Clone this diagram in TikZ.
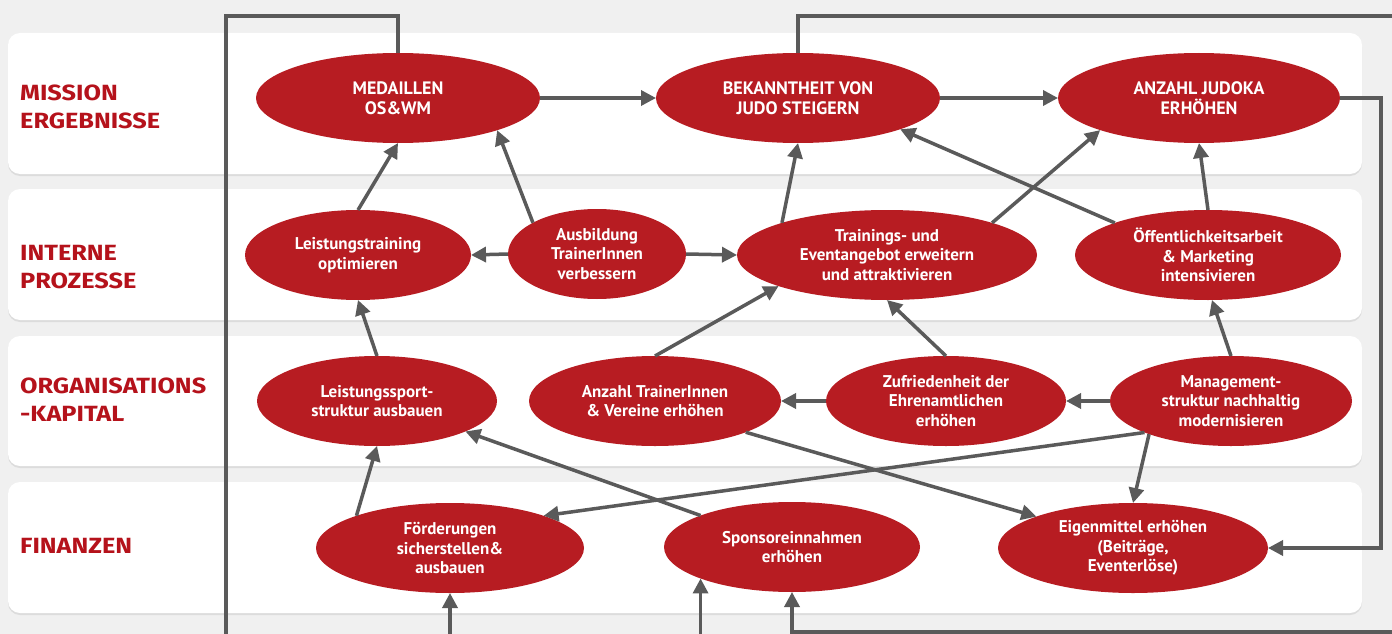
\documentclass[tikz,border=0pt]{standalone}
\usepackage{fontspec}
\setmainfont{PT Sans}
\newfontfamily\labfont[FakeStretch=1.15]{Fira Sans}
\usetikzlibrary{shapes.geometric,arrows.meta}
\definecolor{jred}{HTML}{B71C22}
\definecolor{lred}{HTML}{B5121B}
\definecolor{agray}{HTML}{5A5A5A}
\definecolor{bgc}{HTML}{F0F0F0}
\definecolor{shc}{HTML}{DCDCDC}
\tikzset{
  goal/.style={ellipse, fill=jred, text=white, align=center, inner sep=0pt, outer sep=0pt,
    font=\bfseries\fontsize{17}{19.5}\selectfont},
  capgoal/.style={goal, font=\bfseries\fontsize{18}{19.5}\selectfont},
  conn/.style={draw=agray, line width=3.5pt, -{Triangle[length=15pt,width=15pt]}},
  plainline/.style={draw=agray, line width=3.5pt},
  band/.style={fill=white, rounded corners=12pt},
  bandshadow/.style={fill=shc, rounded corners=12pt},
  lab/.style={text=lred, align=left, anchor=west, inner sep=0pt,
    font=\labfont\bfseries\fontsize{22}{28}\selectfont}
}
\begin{document}
\begin{tikzpicture}[x=1pt,y=-1pt]
\useasboundingbox (0,0) rectangle (1392,634);
\clip (0,0) rectangle (1392,634);
\fill[bgc] (0,0) rectangle (1392,634);
% bands
\foreach \ya/\yb in {33/174, 189/320, 336/466, 482/613}{
  \fill[bandshadow] (8,\ya+2) rectangle (1362,\yb+2);
  \fill[band] (8,\ya) rectangle (1362,\yb);
}
% perspective labels
\node[lab] (l1) at (20,107) {MISSION\\ERGEBNISSE};
\node[lab] (l2) at (20,267) {INTERNE\\PROZESSE};
\node[lab] (l3) at (20,400) {ORGANISATIONS\\-KAPITAL};
\node[lab] (l4) at (20,546) {FINANZEN};
% goals
\node[capgoal, minimum width=284pt, minimum height=90pt] (med) at (398,98) {MEDAILLEN\\OS\&WM};
\node[capgoal, minimum width=284pt, minimum height=90pt] (bek) at (798,98) {BEKANNTHEIT VON\\JUDO STEIGERN};
\node[capgoal, minimum width=282pt, minimum height=90pt] (anz) at (1199,98) {ANZAHL JUDOKA\\ERHÖHEN};
\node[goal, minimum width=226pt, minimum height=90pt] (lt) at (358,255) {Leistungstraining\\optimieren};
\node[goal, minimum width=178pt, minimum height=90pt] (aus) at (597,254) {Ausbildung\\TrainerInnen\\verbessern};
\node[goal, minimum width=300pt, minimum height=90pt] (tr) at (887,255) {Trainings- und\\Eventangebot erweitern\\und attraktivieren};
\node[goal, minimum width=266pt, minimum height=90pt] (oef) at (1208,255) {Öffentlichkeitsarbeit\\\& Marketing\\intensivieren};
\node[goal, minimum width=240pt, minimum height=90pt] (lsp) at (377,401) {Leistungssport-\\struktur ausbauen};
\node[goal, minimum width=252pt, minimum height=90pt] (atr) at (655,401) {Anzahl TrainerInnen\\\& Vereine erhöhen};
\node[goal, minimum width=240pt, minimum height=90pt] (zuf) at (946,401) {Zufriedenheit der\\Ehrenamtlichen\\erhöhen};
\node[goal, minimum width=242pt, minimum height=90pt] (mgm) at (1231,401) {Management-\\struktur nachhaltig\\modernisieren};
\node[goal, minimum width=268pt, minimum height=90pt] (foe) at (450,548) {Förderungen\\sicherstellen\&\\ausbauen};
\node[goal, minimum width=256pt, minimum height=90pt] (spo) at (792,547) {Sponsoreinnahmen\\erhöhen};
\node[goal, minimum width=270pt, minimum height=90pt] (eig) at (1133,548) {Eigenmittel erhöhen\\(Beiträge,\\Eventerlöse)};
% free ends of the loops
\coordinate (cTL) at (226,16);
\coordinate (offL) at (226,680);
\coordinate (offF) at (450,680);
\coordinate (offS) at (700,680);
\coordinate (offTR) at (1440,16);
\coordinate (cR) at (1381,548);
\coordinate (offBR) at (1440,632);
% connectors
\draw[conn] (med.east) -- (bek.west);
\draw[conn] (bek.east) -- (anz.west);
\draw[conn] (lt.north) -- (med.south);
\draw[conn] (aus.154) -- (med.-18);
\draw[conn] (aus.west) -- (lt.east);
\draw[conn] (aus.east) -- (tr.west);
\draw[conn] (tr.163) -- (bek.south);
\draw[conn] (tr.17) -- (anz.198);
\draw[conn] (oef.161) -- (bek.-17);
\draw[conn] (oef.north) -- (anz.south);
\draw[conn] (lsp.north) -- (lt.south);
\draw[conn] (atr.north) -- (tr.-164);
\draw[conn] (zuf.north) -- (tr.south);
\draw[conn] (zuf.west) -- (atr.east);
\draw[conn] (mgm.west) -- (zuf.east);
\draw[conn] (mgm.north) -- (oef.-85);
\draw[conn] (mgm.-160) -- (foe.19);
\draw[conn] (mgm.-158) -- (eig.north);
\draw[conn] (atr.-19) -- (eig.162);
\draw[conn] (foe.161) -- (lsp.south);
\draw[conn] (spo.161) -- (lsp.-19);
% feedback loops
\draw[plainline] (med.north) |- (cTL) -- (offL);
\draw[conn] (offF) -- (foe.south);
\draw[conn] (spo.-161.4 |- offS) -- (spo.-161.4);
\draw[plainline] (bek.north) |- (offTR);
\draw[conn] (anz.east) -| (cR) -- (eig.east);
\draw[conn] (offBR) -| (spo.south);
\end{tikzpicture}
\end{document}
